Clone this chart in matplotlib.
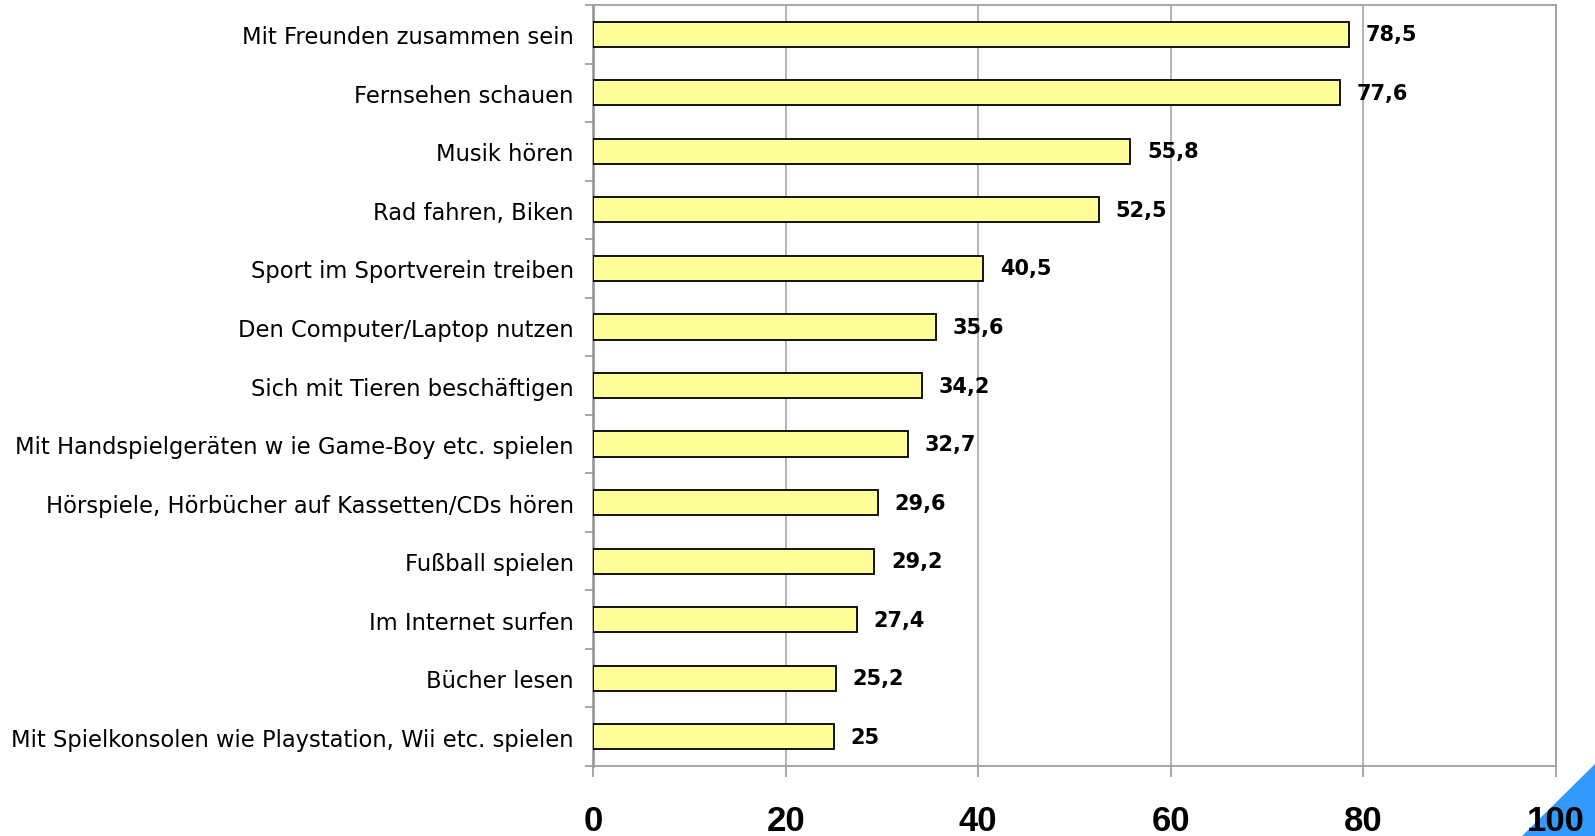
import matplotlib
matplotlib.use('Agg')
import matplotlib.pyplot as plt
from matplotlib.patches import Polygon

plt.rcParams['font.family'] = ['Liberation Sans', 'DejaVu Sans']

# data, top to bottom as in the chart
activities = [
    'Mit Freunden zusammen sein',
    'Fernsehen schauen',
    'Musik hören',
    'Rad fahren, Biken',
    'Sport im Sportverein treiben',
    'Den Computer/Laptop nutzen',
    'Sich mit Tieren beschäftigen',
    'Mit Handspielgeräten w ie Game-Boy etc. spielen',
    'Hörspiele, Hörbücher auf Kassetten/CDs hören',
    'Fußball spielen',
    'Im Internet surfen',
    'Bücher lesen',
    'Mit Spielkonsolen wie Playstation, Wii etc. spielen',
]
percent = [78.5, 77.6, 55.8, 52.5, 40.5, 35.6, 34.2, 32.7, 29.6, 29.2, 27.4, 25.2, 25]
xticks = [0, 20, 40, 60, 80, 100]

fig = plt.figure(figsize=(15.95, 8.37), dpi=100)
ax = fig.add_axes([0.3718, 0.0836, 0.9756 - 0.3718, 0.9928 - 0.0836])

pos = list(range(len(activities)))
ax.barh(pos, percent, height=0.43, color='#FFFF99', edgecolor='black',
        linewidth=1.3, zorder=3)

for p, v in zip(pos, percent):
    lbl = ('%g' % v).replace('.', ',')
    ax.annotate(lbl, (v, p), xytext=(12, 0), textcoords='offset points',
                ha='left', va='center', fontsize=15, fontweight='bold',
                family='DejaVu Sans', zorder=4)

ax.set_ylim(len(activities) - 0.5, -0.5)
ax.set_xlim(0, 100)

ax.set_yticks(pos)
ax.set_yticklabels(activities, fontsize=16.3, family='DejaVu Sans')
ax.set_yticks([i + 0.5 for i in range(-1, len(activities))], minor=True)
ax.tick_params(axis='y', which='major', length=0, pad=14)
ax.tick_params(axis='y', which='minor', length=6, color='#999999', width=1.2)

ax.set_xticks(xticks)
ax.set_xticklabels([str(t) for t in xticks], fontsize=25, fontweight='bold')
ax.tick_params(axis='x', length=8, color='#999999', width=1.2, pad=19)

ax.grid(axis='x', color='#A0A0A0', linewidth=1.1, zorder=0)
for s in ax.spines.values():
    s.set_color('#A0A0A0')
    s.set_linewidth(1.3)
ax.spines['left'].set_color('#909090')
ax.spines['left'].set_linewidth(1.8)

# blue corner decoration
tri = Polygon([(0.9542, 0), (1, 0), (1, 0.086)], closed=True,
              transform=fig.transFigure, facecolor='#3399FF', edgecolor='none',
              zorder=-1)
fig.patches.append(tri)

fig.savefig('out.png', dpi=100)
